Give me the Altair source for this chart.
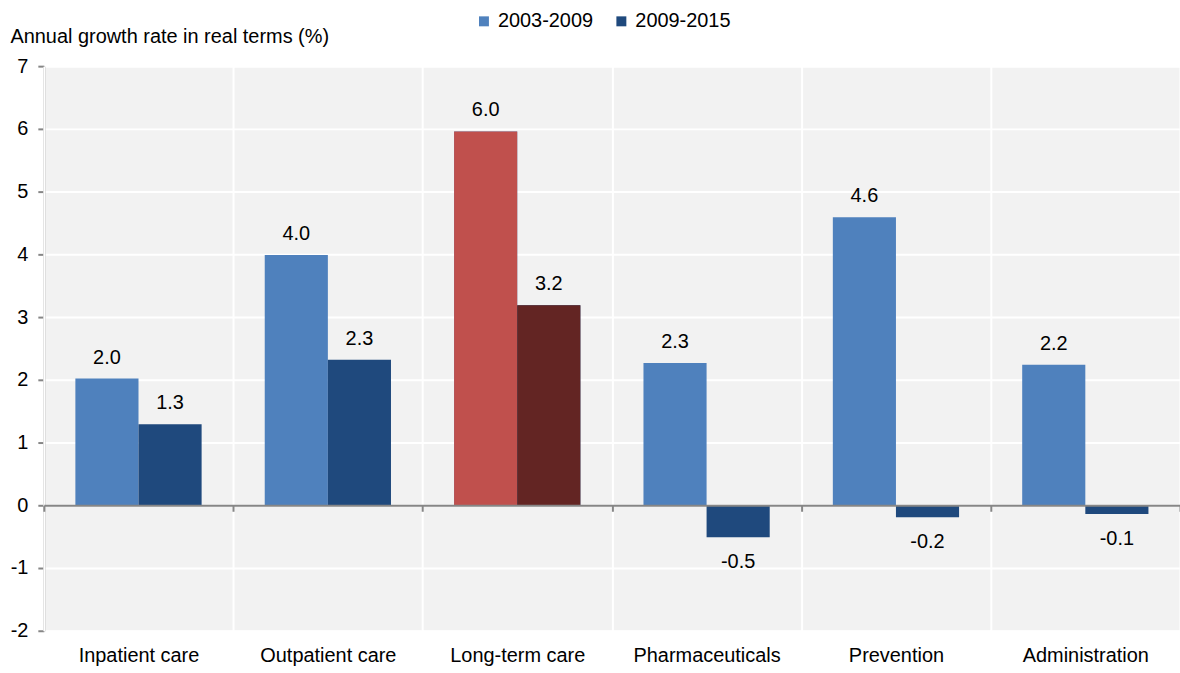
import altair as alt
import pandas as pd

categories = ["Inpatient care", "Outpatient care", "Long-term care",
              "Pharmaceuticals", "Prevention", "Administration"]
series = ["2003-2009", "2009-2015"]
growth_2003_2009 = [2.02, 3.99, 5.96, 2.27, 4.59, 2.24]
growth_2009_2015 = [1.29, 2.32, 3.19, -0.51, -0.19, -0.14]
y_ticks = [-2, -1, 0, 1, 2, 3, 4, 5, 6, 7]
highlight = "Long-term care"

series_colors = ["#4f81bd", "#1f497d"]
highlight_colors = ["#c0504d", "#632523"]

rows = []
for i, c in enumerate(categories):
    for s, vals in zip(series, [growth_2003_2009, growth_2009_2015]):
        v = vals[i]
        rows.append({"category": c, "series": s, "value": v, "label": f"{v:.1f}"})
df = pd.DataFrame(rows)

FONT = "Liberation Sans"
FS = 20
GREY = "#868686"

x_enc = alt.X(
    "category:N", sort=categories, title=None,
    scale=alt.Scale(paddingInner=0, paddingOuter=0),
    axis=alt.Axis(
        orient="bottom", offset=-126, zindex=1,
        domainColor=GREY, domainWidth=2,
        ticks=True, tickColor=GREY, tickWidth=2, tickSize=6, tickBand="extent",
        grid=True, gridColor="white", gridWidth=2,
        labelAngle=0, labelFontSize=FS, labelColor="black", labelFont=FONT,
        labelPadding=135,
    ),
)
xo_enc = alt.XOffset("series:N", sort=series,
                     scale=alt.Scale(paddingInner=0, paddingOuter=0.5))
y_enc = alt.Y(
    "value:Q",
    scale=alt.Scale(domain=[-2, 7], nice=False, zero=False),
    axis=alt.Axis(
        values=y_ticks, title="Annual growth rate in real terms (%)",
        titleAngle=0, titleX=-34, titleY=-30, titleAlign="left",
        titleBaseline="middle", titleFontSize=FS, titleFontWeight="normal",
        titleColor="black", titleFont=FONT,
        domainColor=GREY, domainWidth=2,
        tickColor=GREY, tickWidth=2, tickSize=6,
        grid=True, gridColor="white", gridWidth=2,
        labelExpr="'' + datum.value", labelFontSize=FS, labelColor="black",
        labelFont=FONT, labelPadding=10,
    ),
)

base = alt.Chart(df)

bars = base.mark_bar().encode(
    x=x_enc, xOffset=xo_enc, y=y_enc,
    color=alt.Color(
        "series:N", sort=series,
        scale=alt.Scale(domain=series, range=series_colors),
        legend=alt.Legend(
            title=None, orient="none", legendX=432, legendY=-55,
            direction="horizontal", symbolType="square", symbolSize=100,
            symbolStrokeWidth=0, labelFontSize=FS, labelFont=FONT,
            labelColor="black", labelOffset=4, columnPadding=18,
        ),
    ),
)

hl_bars = base.mark_bar().transform_filter(
    alt.datum.category == highlight
).encode(
    x=x_enc, xOffset=xo_enc, y=y_enc,
    color=alt.condition(alt.datum.series == series[0],
                        alt.value(highlight_colors[0]),
                        alt.value(highlight_colors[1])),
)

pos_text = base.mark_text(
    dy=-15, baseline="alphabetic", fontSize=FS, font=FONT, color="black"
).transform_filter("datum.value >= 0").encode(
    x=x_enc, xOffset=xo_enc, y=y_enc, text="label:N"
)

neg_text = base.mark_text(
    dy=31, baseline="alphabetic", fontSize=FS, font=FONT, color="black"
).transform_filter("datum.value < 0").encode(
    x=x_enc, xOffset=xo_enc, y=y_enc, text="label:N"
)

chart = alt.layer(bars, hl_bars, pos_text, neg_text).properties(
    width=1141, height=567,
    autosize=alt.AutoSizeParams(type="none"),
    padding={"left": 44, "top": 65, "right": 0, "bottom": 41},
    background="white",
    view=alt.ViewBackground(fill="#f2f2f2", strokeWidth=0),
).configure(font=FONT)

chart.save("out.html", embed_options={"renderer": "svg", "actions": False})
